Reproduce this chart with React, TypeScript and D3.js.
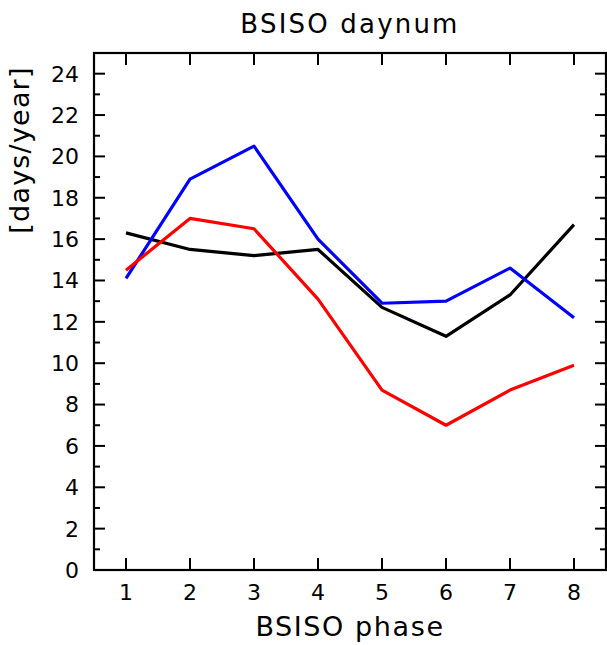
import React from 'react';
import * as d3 from 'd3';

const phases = [1, 2, 3, 4, 5, 6, 7, 8];
const blackSeries = [16.3, 15.5, 15.2, 15.5, 12.7, 11.3, 13.3, 16.7];
const blueSeries = [14.1, 18.9, 20.5, 16.0, 12.9, 13.0, 14.6, 12.2];
const redSeries = [14.5, 17.0, 16.5, 13.1, 8.7, 7.0, 8.7, 9.9];
const yMajorTicks = [0, 2, 4, 6, 8, 10, 12, 14, 16, 18, 20, 22, 24];
const yMinorTicks = [1, 3, 5, 7, 9, 11, 13, 15, 17, 19, 21, 23];

const W = 607;
const H = 645;
const left = 94;
const right = 606;
const top = 53;
const bottom = 570;
const font = "'DejaVu Sans', sans-serif";

const App = () => {
  const x = d3.scaleLinear().domain([0.5, 8.5]).range([left, right]);
  const y = d3.scaleLinear().domain([0, 25]).range([bottom, top]);

  const line = d3
    .line<number>()
    .x((d, i) => x(phases[i]))
    .y(d => y(d));

  const series = [
    { values: blackSeries, color: '#000000' },
    { values: blueSeries, color: '#0000ff' },
    { values: redSeries, color: '#ff0000' },
  ];

  return (
    <svg width={W} height={H} style={{ position: 'absolute', left: 0, top: 0, background: '#fff' }}>
      {/* frame */}
      <rect x={left} y={top} width={right - left} height={bottom - top} fill="none" stroke="#000" strokeWidth={2.2} />

      {/* y ticks, both sides */}
      {yMajorTicks.map(t => (
        <g key={'ym' + t}>
          <line x1={left} x2={left + 11} y1={y(t)} y2={y(t)} stroke="#000" strokeWidth={2} />
          <line x1={right} x2={right - 11} y1={y(t)} y2={y(t)} stroke="#000" strokeWidth={2} />
          <text x={79} y={y(t)} dy="0.36em" textAnchor="end" fontFamily={font} fontSize={22} fill="#000">
            {t}
          </text>
        </g>
      ))}
      {yMinorTicks.map(t => (
        <g key={'yn' + t}>
          <line x1={left} x2={left + 6} y1={y(t)} y2={y(t)} stroke="#000" strokeWidth={2} />
          <line x1={right} x2={right - 6} y1={y(t)} y2={y(t)} stroke="#000" strokeWidth={2} />
        </g>
      ))}

      {/* x ticks, top and bottom */}
      {phases.map(p => (
        <g key={'x' + p}>
          <line x1={x(p)} x2={x(p)} y1={bottom} y2={bottom - 12} stroke="#000" strokeWidth={2} />
          <line x1={x(p)} x2={x(p)} y1={top} y2={top + 12} stroke="#000" strokeWidth={2} />
          <text x={x(p)} y={600} textAnchor="middle" fontFamily={font} fontSize={22} fill="#000">
            {p}
          </text>
        </g>
      ))}

      {/* lines */}
      {series.map((s, i) => (
        <path key={i} d={line(s.values) || ''} fill="none" stroke={s.color} strokeWidth={3.2} strokeLinejoin="round" />
      ))}

      {/* titles */}
      <text x={350} y={33} textAnchor="middle" fontFamily={font} fontSize={26} letterSpacing={2.2} fill="#000">
        BSISO daynum
      </text>
      <text x={350} y={636} textAnchor="middle" fontFamily={font} fontSize={27} letterSpacing={1.6} fill="#000">
        BSISO phase
      </text>
      <text
        transform="translate(29,150) rotate(-90)"
        textAnchor="middle"
        fontFamily={font}
        fontSize={27}
        letterSpacing={1.2}
        fill="#000"
      >
        [days/year]
      </text>
    </svg>
  );
};

export default App;
